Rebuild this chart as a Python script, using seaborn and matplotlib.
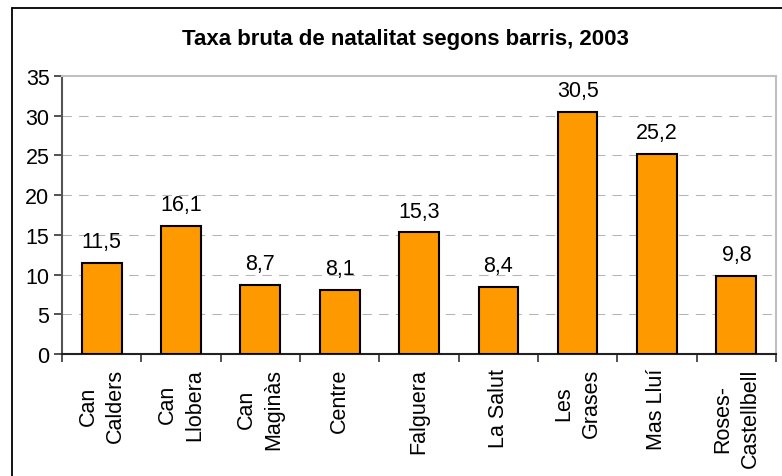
import matplotlib
matplotlib.use("Agg")
import matplotlib.pyplot as plt
import seaborn as sns
import pandas as pd
import numpy as np
from matplotlib.lines import Line2D

categories = ["Can\nCalders", "Can\nLlobera", "Can\nMaginàs", "Centre", "Falguera",
              "La Salut", "Les\nGrases", "Mas Lluí", "Roses-\nCastellbell"]
values = [11.5, 16.1, 8.7, 8.1, 15.3, 8.4, 30.5, 25.2, 9.8]
title = "Taxa bruta de natalitat segons barris, 2003"
yticks = [0, 5, 10, 15, 20, 25, 30, 35]

sns.set_style("white")
plt.rcParams['font.family'] = ['Liberation Sans', 'DejaVu Sans']
plt.rcParams['text.color'] = 'black'
plt.rcParams['xtick.color'] = 'black'
plt.rcParams['ytick.color'] = 'black'

df = pd.DataFrame({"barri": categories, "taxa": values})

fig = plt.figure(figsize=(7.82, 4.77), dpi=100)
ax = fig.add_axes([62/782, 1-355/477, (776-62)/782, (355-77)/477])

sns.barplot(data=df, x="barri", y="taxa", ax=ax, color="#FF9900",
            saturation=1, width=0.5, edgecolor="black", linewidth=1.5, zorder=3)

ax.set_ylim(0, 35)
ax.set_xlim(-0.5, len(categories) - 0.5)
ax.set_yticks(yticks)
ax.set_yticklabels([str(t) for t in yticks], fontsize=15.5, color="black")
ax.set_xlabel("")
ax.set_ylabel("")

for t in yticks[1:-1]:
    ax.axhline(t, color="#b4b4b4", lw=0.75, linestyle=(0, (9, 7)), zorder=1)

ax.set_xticks(range(len(categories)))
ax.set_xticklabels(categories, rotation=90, fontsize=15.5, ha="center", va="top",
                   multialignment="center", linespacing=1.4, color="black")
ax.tick_params(axis="x", which="major", length=0, pad=10)
ax.set_xticks(np.arange(-0.5, len(categories), 1), minor=True)
ax.tick_params(axis="x", which="minor", length=6, width=1.2, color="#333333", direction="out", bottom=True)
ax.tick_params(axis="y", which="major", length=6, width=1.2, color="#333333", direction="out", left=True, pad=3)

for s in ["top", "right"]:
    ax.spines[s].set_color("#c0c0c0")
    ax.spines[s].set_linewidth(1.5)
ax.spines["left"].set_color("#555555")
ax.spines["left"].set_linewidth(1.5)
ax.spines["bottom"].set_color("#222222")
ax.spines["bottom"].set_linewidth(1.5)

for i, v in enumerate(values):
    ax.annotate(f"{v:.1f}".replace(".", ","), (i, v), xytext=(0, 11.5), textcoords="offset points",
                ha="center", va="baseline", fontsize=15.5, color="black")

fig.text(405/782, 1-39/477, title, ha="center", va="center", fontsize=16, fontweight="bold", color="black")

fig.add_artist(Line2D([12/782, 12/782], [0, 1-9/477], transform=fig.transFigure, color="black", lw=1.3))
fig.add_artist(Line2D([12/782, 1], [1-9/477, 1-9/477], transform=fig.transFigure, color="black", lw=1.3))

fig.savefig("out.png", dpi=100)
